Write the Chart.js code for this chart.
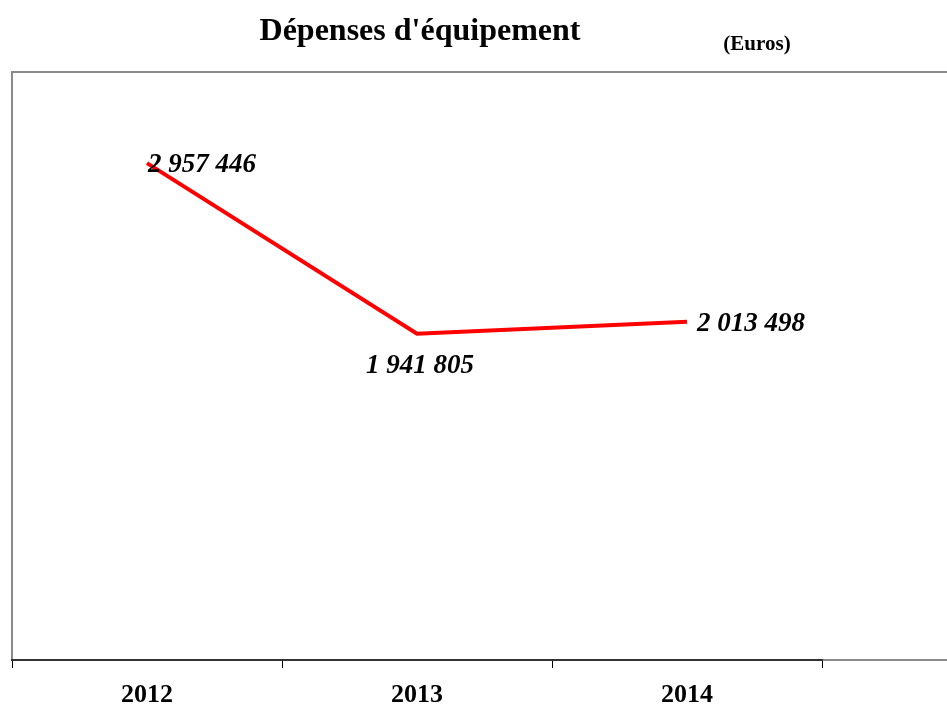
<!DOCTYPE html>
<html>
<head>
<meta charset="utf-8">
<script src="https://cdn.jsdelivr.net/npm/chart.js@4.4.1/dist/chart.umd.min.js"></script>
<style>
  html, body { margin: 0; padding: 0; background: #fff; overflow: hidden; }
  #wrap { width: 947px; height: 706px; position: relative; }
</style>
</head>
<body>
<div id="wrap"><canvas id="c" width="947" height="706"></canvas></div>
<script>
const categories = ['2012', '2013', '2014'];
const depenses = [2957446, 1941805, 2013498];
const chartTitle = "Dépenses d'équipement";
const unitLabel = '(Euros)';
const labelPlacement = ['right', 'below', 'right'];

function fmt(v) {
  return String(v).replace(/\B(?=(\d{3})+(?!\d))/g, ' ');
}

const serif = "'Liberation Serif', 'Times New Roman', serif";

const framePlugin = {
  id: 'frame',
  beforeDraw(chart) {
    const { ctx, chartArea: a, width } = chart;
    ctx.save();
    ctx.strokeStyle = '#8a8a8a';
    ctx.lineWidth = 2;
    ctx.beginPath();
    ctx.moveTo(a.left, a.bottom);
    ctx.lineTo(a.left, a.top);
    ctx.lineTo(width, a.top);
    ctx.moveTo(a.right, a.bottom);
    ctx.lineTo(width, a.bottom);
    ctx.stroke();
    ctx.restore();
  },
  afterDraw(chart) {
    const { ctx } = chart;
    ctx.save();
    ctx.fillStyle = '#000';
    ctx.textAlign = 'center';
    ctx.textBaseline = 'middle';
    ctx.font = 'bold 32px ' + serif;
    ctx.fillText(chartTitle, 420, 32);
    ctx.font = 'bold 21px ' + serif;
    ctx.fillText(unitLabel, 757, 45);
    ctx.restore();
  }
};

const labelPlugin = {
  id: 'vlabels',
  afterDatasetsDraw(chart) {
    const { ctx } = chart;
    const meta = chart.getDatasetMeta(0);
    ctx.save();
    ctx.fillStyle = '#000';
    ctx.font = 'italic bold 27px ' + serif;
    ctx.textBaseline = 'middle';
    meta.data.forEach((pt, i) => {
      const txt = fmt(depenses[i]);
      if (labelPlacement[i] === 'below') {
        ctx.textAlign = 'center';
        ctx.fillText(txt, pt.x + 3, pt.y + 32);
      } else {
        ctx.textAlign = 'left';
        ctx.fillText(txt, pt.x + (i === 0 ? 1 : 10), pt.y + 2);
      }
    });
    ctx.restore();
  }
};

new Chart(document.getElementById('c'), {
  type: 'line',
  data: {
    labels: categories,
    datasets: [{
      data: depenses,
      borderColor: '#ff0000',
      borderWidth: 4,
      pointRadius: 0,
      tension: 0,
      fill: false
    }]
  },
  options: {
    responsive: false,
    animation: false,
    layout: { padding: { left: 12, top: 72, right: 125, bottom: 0 } },
    plugins: { legend: { display: false }, tooltip: { enabled: false }, title: { display: false } },
    scales: {
      y: { display: false, min: 0, max: 3500000 },
      x: {
        offset: true,
        grid: { display: true, offset: true, drawOnChartArea: false, drawTicks: true, tickLength: 8, color: '#000', lineWidth: 1 },
        border: { display: true, color: '#333', width: 2 },
        ticks: { color: '#000', font: { family: serif, size: 26, weight: 'bold' }, padding: 12, maxRotation: 0 },
        afterFit(s) { s.height = 46; }
      }
    }
  },
  plugins: [framePlugin, labelPlugin]
});
</script>
</body>
</html>
